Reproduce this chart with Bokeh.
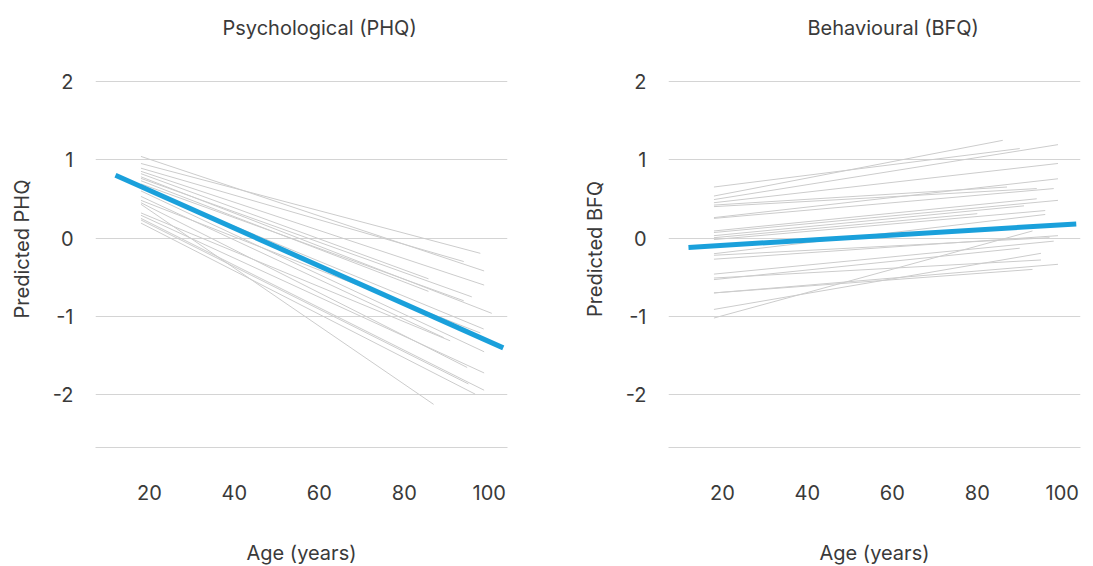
from bokeh.plotting import figure
from bokeh.layouts import row
from bokeh.models import FixedTicker, Range1d, PrintfTickFormatter
from bokeh.embed import file_html
from bokeh.resources import INLINE

# ---- data ----
ages_start = 18
phq_start = [1.04, 0.95, 0.89, 0.85, 0.82, 0.78, 0.76, 0.73, 0.69, 0.64,
             0.60, 0.53, 0.48, 0.45, 0.43, 0.32, 0.29, 0.25, 0.23, 0.19]
phq_end_age = [98.8, 97.9, 94.0, 98.8, 85.7, 100.6, 95.9, 85.7, 94.0, 98.7,
               98.8, 89.3, 97.9, 94.8, 86.9, 90.8, 98.8, 98.8, 95.1, 96.7]
phq_end = [-0.42, -0.195, -0.30, -0.60, -0.52, -0.96, -0.75, -0.68, -0.80, -1.16,
           -1.45, -1.27, -1.21, -1.65, -2.12, -1.31, -1.72, -1.94, -1.86, -1.99]
phq_mean_age = [12, 103.3]
phq_mean = [0.80, -1.40]

bfq_start = [0.65, 0.535, 0.49, 0.45, 0.42, 0.40, 0.26, 0.25, 0.09, 0.07, 0.03,
             0.004, -0.02, -0.20, -0.22, -0.27, -0.46, -0.51, -0.53, -0.70,
             -0.70, -0.91, -1.02]
bfq_end_age = [90, 86, 99, 99, 87, 94, 99, 98, 94, 99, 91,
               80, 96, 96, 97, 99, 98, 95, 90, 99,
               93, 95, 93]
bfq_end = [1.14, 1.245, 1.19, 0.95, 0.65, 0.63, 0.755, 0.63, 0.50, 0.48, 0.41,
           0.31, 0.35, 0.30, 0.004, 0.03, -0.04, -0.28, -0.13, -0.335,
           -0.40, -0.195, 0.09]
bfq_mean_age = [12, 103.3]
bfq_mean = [-0.12, 0.18]

x_ticks = [20, 40, 60, 80, 100]
y_ticks = [-2, -1, 0, 1, 2]

FONT = "Inter"
TXT = "#3a3a3a"
GRID = "#d4d4d4"
BLUE = "#1aa0db"
GREY = "#cccccc"
FS = "20px"


def make(title, title_offset, ylab, starts, end_ages, ends, mean_age, mean,
         left_border, right_border):
    p = figure(frame_width=412, frame_height=397, output_backend="svg",
               toolbar_location=None,
               x_range=Range1d(7.3, 104.3), y_range=Range1d(-2.67, 2.39),
               min_border_left=left_border, min_border_right=right_border,
               min_border_top=50, min_border_bottom=119)
    p.title.text = title
    p.title.align = "left"
    p.title.offset = title_offset
    p.title.text_font = FONT
    p.title.text_font_size = FS
    p.title.text_font_style = "normal"
    p.title.text_color = TXT
    p.title.standoff = 22
    p.outline_line_color = None
    p.background_fill_color = "white"
    p.border_fill_color = "white"

    xs = [[ages_start, ea] for ea in end_ages]
    ys = [[s, e] for s, e in zip(starts, ends)]
    p.multi_line(xs, ys, line_color=GREY, line_width=1)
    p.line(mean_age, mean, line_color=BLUE, line_width=5)

    p.xaxis.ticker = FixedTicker(ticks=x_ticks)
    p.yaxis.ticker = FixedTicker(ticks=y_ticks)
    p.yaxis.formatter = PrintfTickFormatter(format="%d")
    p.xgrid.grid_line_color = None
    p.ygrid.grid_line_color = GRID
    p.ygrid.grid_line_width = 1

    for ax in (p.xaxis[0], p.yaxis[0]):
        ax.major_tick_line_color = None
        ax.minor_tick_line_color = None
        ax.major_label_text_font = FONT
        ax.major_label_text_font_size = FS
        ax.major_label_text_color = TXT
        ax.axis_label_text_font = FONT
        ax.axis_label_text_font_size = FS
        ax.axis_label_text_font_style = "normal"
        ax.axis_label_text_color = TXT
    p.yaxis.axis_line_color = None
    p.xaxis.axis_line_color = GRID
    p.xaxis.axis_label = "Age (years)"
    p.yaxis.axis_label = ylab
    p.xaxis.major_label_standoff = 31
    p.xaxis.axis_label_standoff = 38
    p.yaxis.major_label_standoff = 16
    p.yaxis.axis_label_standoff = 16
    return p


p1 = make("Psychological (PHQ)", 127, "Predicted PHQ", phq_start, phq_end_age, phq_end,
          phq_mean_age, phq_mean, 95, 72)
p2 = make("Behavioural (BFQ)", 139, "Predicted BFQ", bfq_start, bfq_end_age, bfq_end,
          bfq_mean_age, bfq_mean, 87, 7)

layout = row(p1, p2)
open("out.html", "w").write(file_html(layout, INLINE))
